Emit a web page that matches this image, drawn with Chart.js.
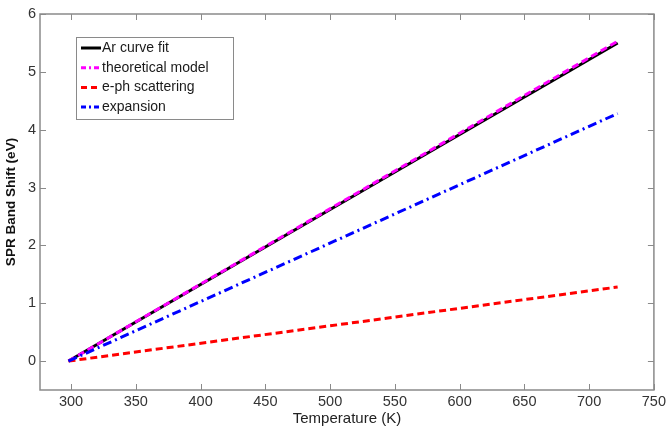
<!DOCTYPE html>
<html>
<head>
<meta charset="utf-8">
<script src="https://cdn.jsdelivr.net/npm/chart.js@4/dist/chart.umd.min.js"></script>
<style>
    html, body { margin: 0; padding: 0; background: #fff; }
    #wrap { width: 669px; height: 435px; }
</style>
</head>
<body>
<div id="wrap"><canvas id="grafico" width="669" height="435"></canvas></div>
<script>
// datos
const temperaturas = [298, 722];
const arAjuste = [0, 5.5];
const modeloTeorico = [0, 5.53];
const dispersionEph = [0, 1.28];
const expansion = [0, 4.28];
const ticksX = [300, 350, 400, 450, 500, 550, 600, 650, 700, 750];
const ticksY = [0, 1, 2, 3, 4, 5, 6];

const puntos = (ys) => temperaturas.map((t, i) => ({ x: t, y: ys[i] }));
const fuente = "'Liberation Sans', Arial, sans-serif";

// caja del eje con marcas hacia adentro (estilo matlab) + leyenda con borde
const cajaMatlab = {
    id: "cajaMatlab",
    afterDraw(chart) {
        const { ctx, chartArea: a, scales } = chart;
        ctx.save();
        ctx.strokeStyle = "#8a8a8a";
        ctx.lineWidth = 1.5;
        ctx.strokeRect(a.left, a.top, a.right - a.left, a.bottom - a.top);
        ctx.lineWidth = 1;
        ctx.beginPath();
        ticksX.forEach(v => {
            const px = Math.round(scales.x.getPixelForValue(v)) + 0.5;
            ctx.moveTo(px, a.bottom); ctx.lineTo(px, a.bottom - 6);
            ctx.moveTo(px, a.top); ctx.lineTo(px, a.top + 6);
        });
        ticksY.forEach(v => {
            const py = Math.round(scales.y.getPixelForValue(v)) + 0.5;
            ctx.moveTo(a.left, py); ctx.lineTo(a.left + 6, py);
            ctx.moveTo(a.right, py); ctx.lineTo(a.right - 6, py);
        });
        ctx.stroke();

        // leyenda
        const lx = a.left + 36, ly = a.top + 23, lw = 157, lh = 82;
        ctx.fillStyle = "#fff";
        ctx.fillRect(lx, ly, lw, lh);
        ctx.strokeStyle = "#8a8a8a";
        ctx.lineWidth = 1;
        ctx.strokeRect(lx + 0.5, ly + 0.5, lw, lh);
        ctx.font = "14px " + fuente;
        ctx.textBaseline = "middle";
        chart.data.datasets.forEach((ds, i) => {
            const cy = ly + 11 + i * 19.7;
            ctx.strokeStyle = ds.borderColor;
            ctx.lineWidth = 3;
            ctx.setLineDash(ds.legendDash || []);
            ctx.beginPath();
            ctx.moveTo(lx + 5, cy);
            ctx.lineTo(lx + 25, cy);
            ctx.stroke();
            ctx.setLineDash([]);
            ctx.fillStyle = "#1a1a1a";
            ctx.fillText(ds.label, lx + 26, cy);
        });
        ctx.restore();
    }
};

const ctx = document.getElementById("grafico").getContext("2d");
new Chart(ctx, {
    type: "line",
    data: {
        datasets: [
            {
                label: "Ar curve fit",
                data: puntos(arAjuste),
                borderColor: "#000000",
                borderWidth: 3,
                order: 4
            },
            {
                label: "theoretical model",
                data: puntos(modeloTeorico),
                borderColor: "#ff00ff",
                borderWidth: 3,
                borderDash: [7, 4],
                legendDash: [5, 3, 2, 3],
                order: 3
            },
            {
                label: "e-ph scattering",
                data: puntos(dispersionEph),
                borderColor: "#ff0000",
                borderWidth: 3,
                borderDash: [7, 4],
                legendDash: [6, 4],
                order: 2
            },
            {
                label: "expansion",
                data: puntos(expansion),
                borderColor: "#0000ff",
                borderWidth: 3,
                borderDash: [9, 4, 2, 4],
                legendDash: [5, 3, 2, 3],
                order: 1
            }
        ]
    },
    options: {
        responsive: false,
        animation: false,
        events: [],
        elements: { point: { radius: 0 }, line: { tension: 0 } },
        layout: { padding: { top: 14, right: 11, left: 0, bottom: 0 } },
        plugins: { legend: { display: false }, tooltip: { enabled: false } },
        scales: {
            x: {
                type: "linear",
                min: 276,
                max: 750,
                afterBuildTicks: (s) => { s.ticks = ticksX.map(v => ({ value: v })); },
                afterFit: (s) => { s.height = 45; },
                grid: { display: false, drawTicks: false },
                border: { display: false },
                ticks: {
                    padding: 3,
                    color: "#333",
                    font: { family: fuente, size: 14.5 }
                },
                title: {
                    display: true,
                    text: "Temperature (K)",
                    color: "#222",
                    padding: { top: 0, bottom: 7 },
                    font: { family: fuente, size: 15 }
                }
            },
            y: {
                min: -0.5,
                max: 6,
                afterBuildTicks: (s) => { s.ticks = ticksY.map(v => ({ value: v })); },
                afterFit: (s) => { s.width = 40; },
                grid: { display: false, drawTicks: false },
                border: { display: false },
                ticks: {
                    padding: 4,
                    color: "#333",
                    font: { family: fuente, size: 14.5 }
                },
                title: {
                    display: true,
                    text: "SPR Band Shift (eV)",
                    color: "#111",
                    padding: { top: 3, bottom: 0 },
                    font: { family: fuente, size: 13.5, weight: "bold" }
                }
            }
        }
    },
    plugins: [cajaMatlab]
});
</script>
</body>
</html>
